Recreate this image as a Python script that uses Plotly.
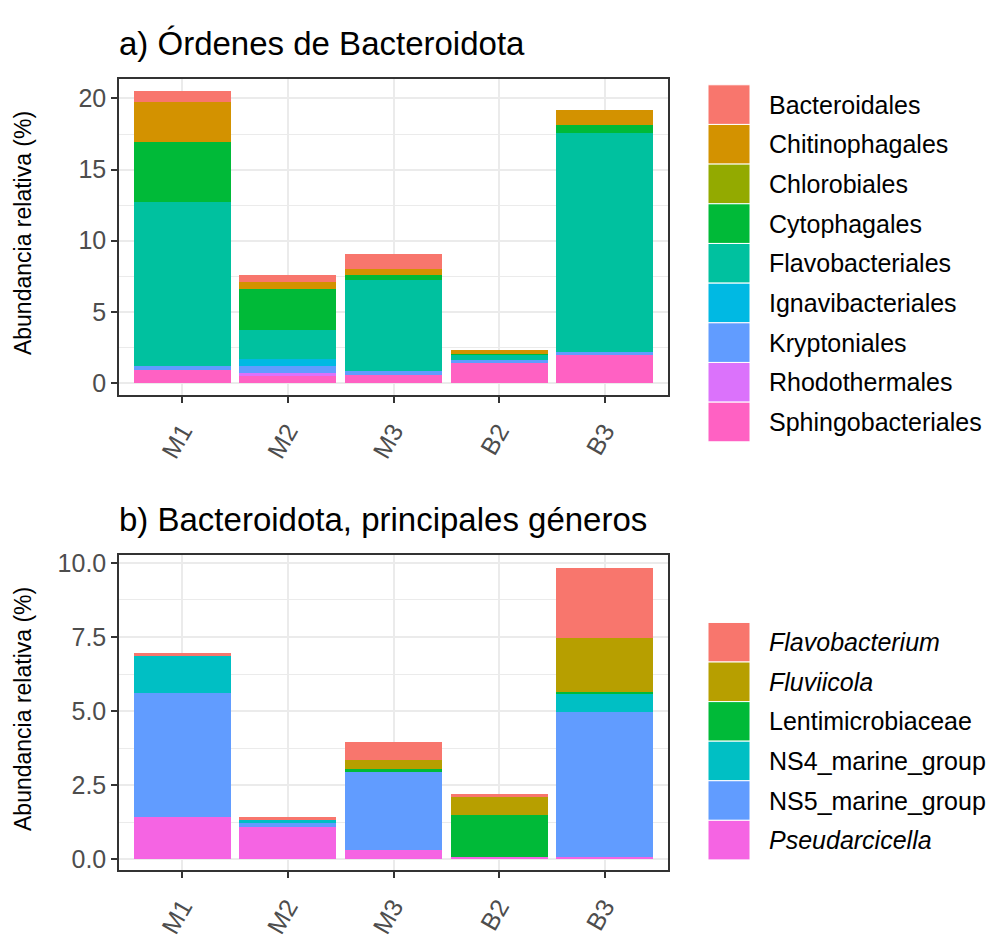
import plotly.graph_objects as go

# ---------------- data ----------------
samples = ["M1", "M2", "M3", "B2", "B3"]

# a) orders (stack order: first = top)
orders = ["Bacteroidales", "Chitinophagales", "Chlorobiales", "Cytophagales",
          "Flavobacteriales", "Ignavibacteriales", "Kryptoniales",
          "Rhodothermales", "Sphingobacteriales"]
order_colors = ["#F8766D", "#D39200", "#93AA00", "#00BA38", "#00C19F",
                "#00B9E3", "#619CFF", "#DB72FB", "#FF61C3"]
bacteroidales      = [0.77, 0.45, 1.01, 0.00, 0.00]
chitinophagales    = [2.78, 0.52, 0.46, 0.25, 1.05]
chlorobiales       = [0.00, 0.00, 0.00, 0.00, 0.00]
cytophagales       = [4.26, 2.92, 0.34, 0.03, 0.57]
flavobacteriales   = [11.50, 2.00, 6.42, 0.38, 15.33]
ignavibacteriales  = [0.00, 0.50, 0.00, 0.00, 0.00]
kryptoniales       = [0.27, 0.51, 0.25, 0.23, 0.27]
rhodothermales     = [0.00, 0.17, 0.00, 0.00, 0.00]
sphingobacteriales = [0.92, 0.51, 0.57, 1.41, 1.94]
order_values = [bacteroidales, chitinophagales, chlorobiales, cytophagales,
                flavobacteriales, ignavibacteriales, kryptoniales,
                rhodothermales, sphingobacteriales]

# b) genera
genera = ["Flavobacterium", "Fluviicola", "Lentimicrobiaceae",
          "NS4_marine_group", "NS5_marine_group", "Pseudarcicella"]
genera_labels = ["<i>Flavobacterium</i>", "<i>Fluviicola</i>", "Lentimicrobiaceae",
                 "NS4_marine_group", "NS5_marine_group", "<i>Pseudarcicella</i>"]
genera_colors = ["#F8766D", "#B79F00", "#00BA38", "#00BFC4", "#619CFF", "#F564E3"]
flavobacterium    = [0.11, 0.11, 0.61, 0.12, 2.38]
fluviicola        = [0.00, 0.00, 0.31, 0.60, 1.80]
lentimicrobiaceae = [0.00, 0.00, 0.12, 1.41, 0.09]
ns4_marine_group  = [1.25, 0.10, 0.00, 0.00, 0.59]
ns5_marine_group  = [4.18, 0.13, 2.60, 0.00, 4.89]
pseudarcicella    = [1.42, 1.10, 0.33, 0.09, 0.09]
genera_values = [flavobacterium, fluviicola, lentimicrobiaceae,
                 ns4_marine_group, ns5_marine_group, pseudarcicella]

title_a = "a) Órdenes de Bacteroidota"
title_b = "b) Bacteroidota, principales géneros"
ytitle = "Abundancia relativa (%)"

# ---------------- layout helpers ----------------
W, H = 990, 938
def px(x):
    return x / W
def py(y):
    return 1 - y / H

FONT = "Liberation Sans, Arial, Helvetica, sans-serif"
GRID = "#EBEBEB"
AXC = "#333333"
TICKC = "#4D4D4D"

panel_left, panel_right = 119, 668
top_a, bot_a = 74, 399
top_b, bot_b = 564, 888

fig = go.Figure()

# stacked bars: plotly stacks first trace at bottom -> reverse
for name, color, vals in reversed(list(zip(orders, order_colors, order_values))):
    fig.add_trace(go.Bar(x=samples, y=vals, name=name, marker_color=color,
                         marker_line_width=0, width=0.92, showlegend=False,
                         xaxis="x", yaxis="y"))
for name, color, vals in reversed(list(zip(genera, genera_colors, genera_values))):
    fig.add_trace(go.Bar(x=samples, y=vals, name=name, marker_color=color,
                         marker_line_width=0, width=0.92, showlegend=False,
                         xaxis="x2", yaxis="y2"))

common_x = dict(type="category", categoryorder="array", categoryarray=samples,
                range=[-0.6, 4.6], tickangle=-60, ticks="outside", ticklen=6,
                tickwidth=1.5, tickcolor=AXC, showline=True, mirror=True,
                linecolor=AXC, linewidth=1.5, showgrid=True, gridcolor=GRID,
                gridwidth=1.6, zeroline=False, ticklabelstandoff=4,
                tickfont=dict(family=FONT, size=25, color=TICKC))
common_y = dict(ticks="outside", ticklen=6, tickwidth=1.5, tickcolor=AXC,
                showline=True, mirror=True, linecolor=AXC, linewidth=1.5,
                showgrid=True, gridcolor=GRID, gridwidth=1.6, zeroline=False,
                tickfont=dict(family=FONT, size=25, color=TICKC))

fig.update_layout(
    width=W, height=H, autosize=False,
    margin=dict(l=0, r=0, t=0, b=0),
    paper_bgcolor="white", plot_bgcolor="white",
    barmode="stack", showlegend=False,
    font=dict(family=FONT),
    xaxis=dict(domain=[px(panel_left), px(panel_right)], anchor="y", **common_x),
    yaxis=dict(domain=[py(bot_a), py(top_a)], anchor="x", range=[-0.84, 21.37],
               tickvals=[0, 5, 10, 15, 20], ticktext=["0", "5", "10", "15", "20"],
               minor=dict(dtick=2.5, showgrid=True, gridcolor=GRID, gridwidth=1.0),
               **common_y),
    xaxis2=dict(domain=[px(panel_left), px(panel_right)], anchor="y2", **common_x),
    yaxis2=dict(domain=[py(bot_b), py(top_b)], anchor="x2", range=[-0.37, 10.25],
                tickvals=[0, 2.5, 5, 7.5, 10],
                ticktext=["0.0", "2.5", "5.0", "7.5", "10.0"],
                minor=dict(dtick=1.25, showgrid=True, gridcolor=GRID, gridwidth=1.0),
                **common_y),
)

annotations = []
shapes = []

# titles
annotations.append(dict(text=title_a, x=px(panel_left - 2), y=py(38), xref="paper", yref="paper",
                        xanchor="left", yanchor="middle", showarrow=False,
                        font=dict(family=FONT, size=33, color="black")))
annotations.append(dict(text=title_b, x=px(panel_left - 2), y=py(527), xref="paper", yref="paper",
                        xanchor="left", yanchor="middle", showarrow=False,
                        font=dict(family=FONT, size=33, color="black")))
# y titles
for (t, b) in [(top_a, bot_a), (top_b, bot_b)]:
    annotations.append(dict(text=ytitle, x=px(23), y=py((t + b) / 2 - 4), xref="paper", yref="paper",
                            xanchor="center", yanchor="middle", textangle=-90, showarrow=False,
                            font=dict(family=FONT, size=23, color="black")))

# legends (ggplot-style large keys)
def add_legend(labels, colors, y0, key_h):
    for i, (lab, col) in enumerate(zip(labels, colors)):
        ya = y0 + i * key_h
        shapes.append(dict(type="rect", xref="paper", yref="paper",
                           x0=px(708), x1=px(750), y0=py(ya), y1=py(ya + key_h),
                           fillcolor=col, line=dict(color="white", width=1)))
        annotations.append(dict(text=lab, x=px(767), y=py(ya + key_h / 2), xref="paper",
                                yref="paper", xanchor="left", yanchor="middle",
                                showarrow=False,
                                font=dict(family=FONT, size=25, color="black")))

add_legend(orders, order_colors, 80, 40.8)
add_legend(genera_labels, genera_colors, 633, 40.7)

fig.update_layout(annotations=annotations, shapes=shapes)

fig.write_html("out.html")
